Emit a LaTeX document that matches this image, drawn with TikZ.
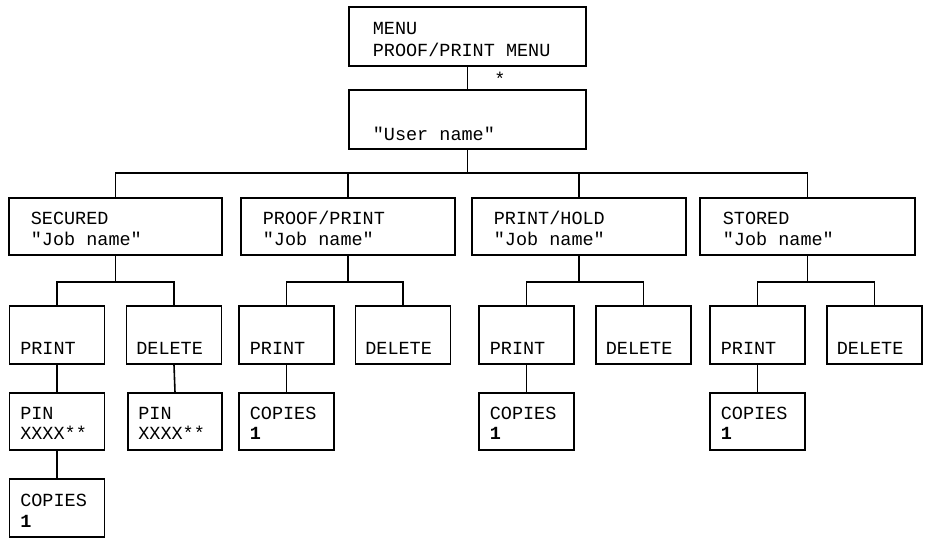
\documentclass[tikz,border=0pt]{standalone}
\usepackage{fontspec}
\setmonofont{Liberation Mono}
\begin{document}
\begin{tikzpicture}[x=1pt, y=-1pt, line width=1.6pt,
    box/.style={draw, rectangle, inner sep=0pt},
    txt/.style={anchor=base west, inner sep=0pt, font=\fontsize{18.5}{20}\ttfamily}]
        \useasboundingbox (0,0) rectangle (926,542);

        % Menu boxes (top)
        \node[box, minimum width=237, minimum height=59] (menu) at (467.5, 36.5) {};
        \node[txt] (menut1) at (372, 34) {MENU};
        \node[txt] (menut2) at (372, 56) {PROOF/PRINT MENU};
        \node[box, minimum width=237, minimum height=59] (user) at (467.5, 119.5) {};
        \node[txt] (usert) at (372, 140) {"User name"};
        \draw (menu.south) -- (user.north);
        \node[txt, anchor=center] (star) at (500, 79) {*};

        % Job types
        \node[box, minimum width=213, minimum height=57] (sec) at (115.5, 226.5) {};
        \node[txt] at (30, 224) {SECURED};
        \node[txt] at (30, 245) {"Job name"};
        \node[box, minimum width=214, minimum height=57] (pp) at (348, 226.5) {};
        \node[txt] at (262, 224) {PROOF/PRINT};
        \node[txt] at (262, 245) {"Job name"};
        \node[box, minimum width=214, minimum height=57] (ph) at (579, 226.5) {};
        \node[txt] at (493, 224) {PRINT/HOLD};
        \node[txt] at (493, 245) {"Job name"};
        \node[box, minimum width=215, minimum height=57] (sto) at (807.5, 226.5) {};
        \node[txt] at (722, 224) {STORED};
        \node[txt] at (722, 245) {"Job name"};

        % Bus to job types
        \coordinate (bus) at (0, 173);
        \draw (user.south) -- (user.south |- bus);
        \draw (sec.north) -- (sec.north |- bus) -- (sto.north |- bus) -- (sto.north);
        \draw (pp.north |- bus) -- (pp.north);
        \draw (ph.north |- bus) -- (ph.north);

        % Print / delete boxes
        \foreach \n/\c/\d in {sec/57/174, pp/286.5/403, ph/526.5/643.5, sto/757.5/874.5} {
            \node[box, minimum width=95, minimum height=58] (\n p) at (\c, 335) {};
            \node[txt] at (\c-37.5, 354) {PRINT};
            \node[box, minimum width=95, minimum height=58] (\n d) at (\d, 335) {};
            \node[txt] at (\d-38.5, 354) {DELETE};
            \draw (\n.south) -- (\n.south |- 0,282);
            \draw (\n p.north) -- (\n p.north |- 0,282) -- (\n d.north |- 0,282) -- (\n d.north);
        }

        % PIN boxes
        \node[box, minimum width=95, minimum height=57] (pin1) at (57, 421.5) {};
        \node[txt] at (19.5, 419) {PIN};
        \node[txt] at (19.5, 439) {XXXX**};
        \node[box, minimum width=94, minimum height=57] (pin2) at (175, 421.5) {};
        \node[txt] at (137.5, 419) {PIN};
        \node[txt] at (137.5, 439) {XXXX**};
        \draw (secp.south) -- (pin1.north);
        \draw (secd.south) -- (pin2.north);

        % Copies boxes
        \node[box, minimum width=95, minimum height=58] (cop1) at (57, 508) {};
        \node[txt] at (19.5, 506) {COPIES};
        \node[txt] at (19.5, 527) {\bfseries 1};
        \draw (pin1.south) -- (cop1.north);
        \foreach \n/\c in {pp/286.5, ph/526.5, sto/757.5} {
            \node[box, minimum width=95, minimum height=57] (\n c) at (\c, 421.5) {};
            \node[txt] at (\c-37.5, 419) {COPIES};
            \node[txt] at (\c-37.5, 439) {\bfseries 1};
            \draw (\n p.south) -- (\n c.north);
        }

    \end{tikzpicture}
\end{document}
